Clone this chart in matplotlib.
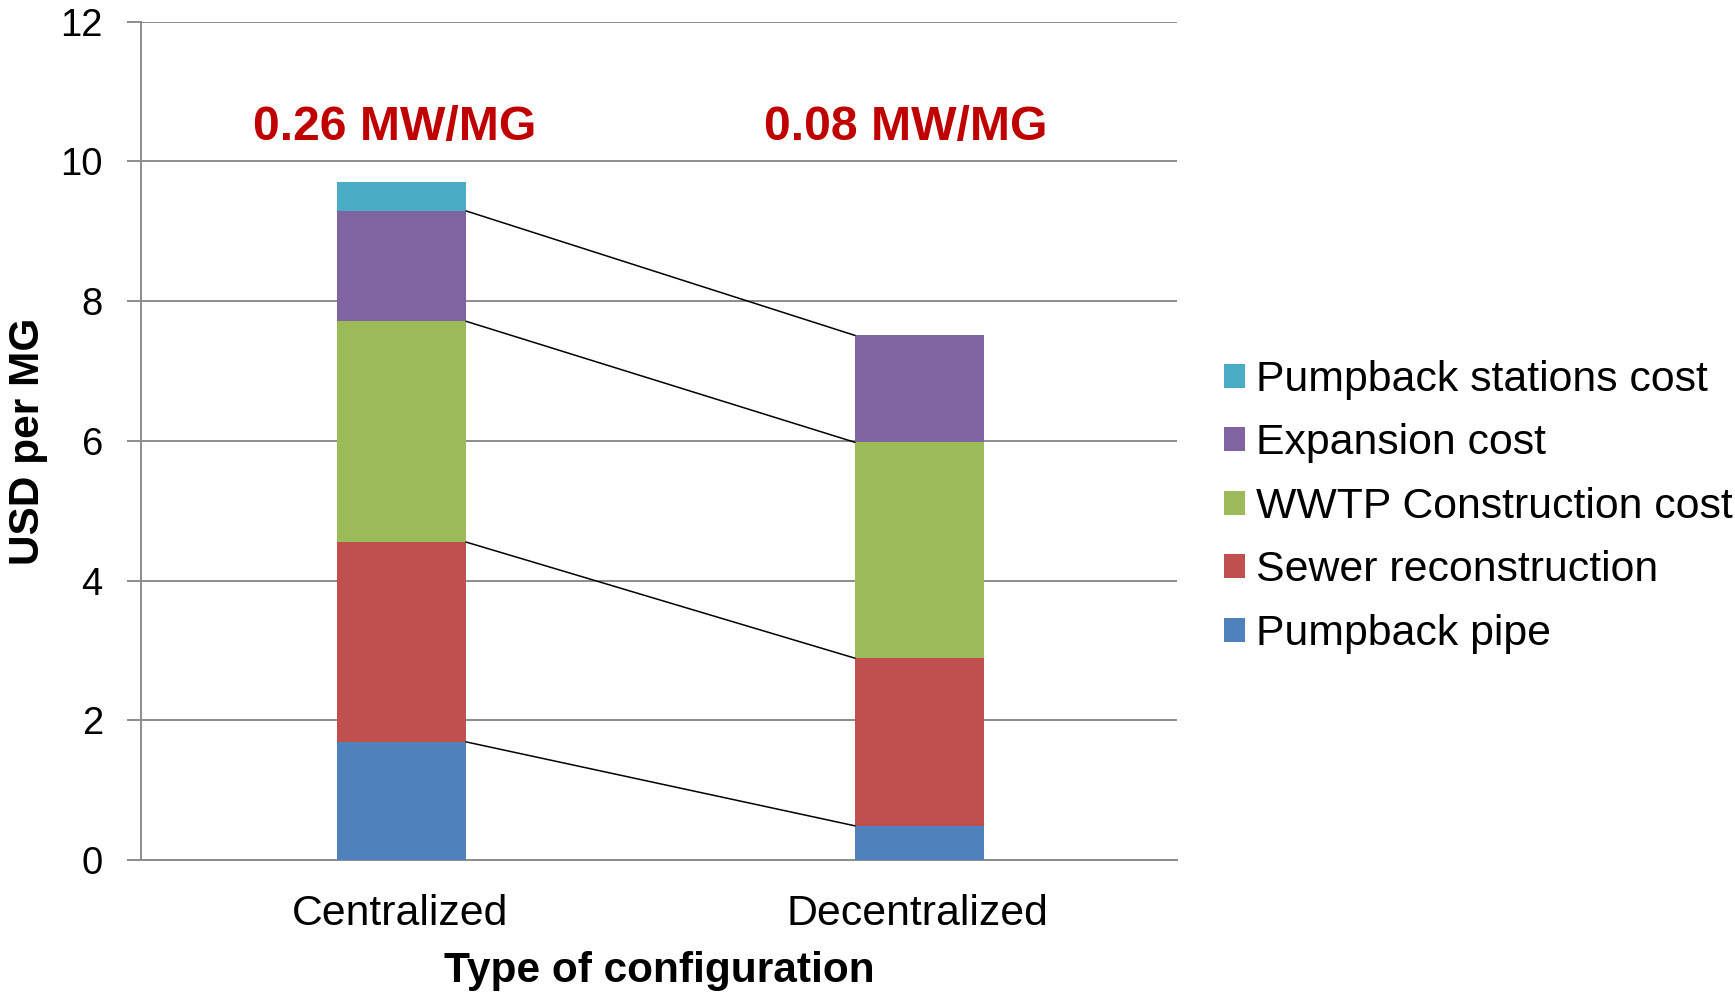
import matplotlib.pyplot as plt
import numpy as np

plt.rcParams['font.family'] = ['Liberation Sans', 'DejaVu Sans']

configs = ['Centralized', 'Decentralized']
series = ['Pumpback pipe', 'Sewer reconstruction', 'WWTP Construction cost',
          'Expansion cost', 'Pumpback stations cost']
pumpback_pipe = [1.69, 0.49]
sewer = [2.86, 2.40]
wwtp = [3.16, 3.09]
expansion = [1.58, 1.53]
stations = [0.42, 0.0]
power_labels = ['0.26 MW/MG', '0.08 MW/MG']

colors = ['#4F81BD', '#C0504D', '#9BBB59', '#8064A2', '#4BACC6']
values = [pumpback_pipe, sewer, wwtp, expansion, stations]

fig = plt.figure(figsize=(17.35, 9.94), dpi=100)
ax = fig.add_axes([0.0813, 0.1348, 0.597, 0.8434])

x = np.arange(len(configs))
w = 0.25
bottom = np.zeros(len(configs))
handles = []
for i, (name, vals) in enumerate(zip(series, values)):
    vals = np.array(vals)
    b = ax.bar(x + 0.003, vals, w, bottom=bottom, color=colors[i], label=name,
               zorder=3, linewidth=0)
    handles.append(b)
    top = bottom + vals
    # series lines between the bars (not for the empty top series)
    if vals[1] > 0:
        ax.plot([x[0] + 0.003 + w / 2, x[1] + 0.003 - w / 2], [top[0], top[1]],
                color='black', lw=1.1, zorder=4)
    bottom = top

label_shift = [-0.01, -0.023]
for xi, lab, dx in zip(x, power_labels, label_shift):
    ax.text(xi + dx, 10.49, lab, ha='center', va='center', fontsize=34.7,
            fontweight='bold', color='#C00000')

ax.set_xlim(-0.5, 1.5)
ax.set_ylim(0, 12)
ax.set_yticks(np.arange(0, 13, 2))
ax.set_xticks(x)
ax.set_xticklabels(configs)
ax.yaxis.grid(True, color='#8C8C8C', lw=1.4, zorder=0)
ax.set_axisbelow(True)
for s in ['top', 'right']:
    ax.spines[s].set_visible(False)
ax.spines['left'].set_color('#8C8C8C')
ax.spines['bottom'].set_color('#8C8C8C')
ax.spines['left'].set_linewidth(1.4)
ax.spines['bottom'].set_linewidth(1.4)
ax.tick_params(axis='y', labelsize=27.5, length=10, width=1.4,
               color='#8C8C8C', pad=17.5)
ax.tick_params(axis='x', labelsize=30.8, length=0, pad=24.5)

ax.set_ylabel('USD per MG', fontsize=30.5, fontweight='bold', va='center')
ax.yaxis.set_label_coords(-0.109, 0.5)
ax.set_xlabel('Type of configuration', fontsize=30.5, fontweight='bold',
              labelpad=12)

fig.legend(handles[::-1], series[::-1], loc='center left',
           bbox_to_anchor=(0.7055, 0.490), frameon=False, fontsize=30.75,
           handlelength=0.5, handleheight=0.5, handletextpad=0.25,
           labelspacing=0.55, borderpad=0, borderaxespad=0)

fig.savefig('out.png', dpi=100)
